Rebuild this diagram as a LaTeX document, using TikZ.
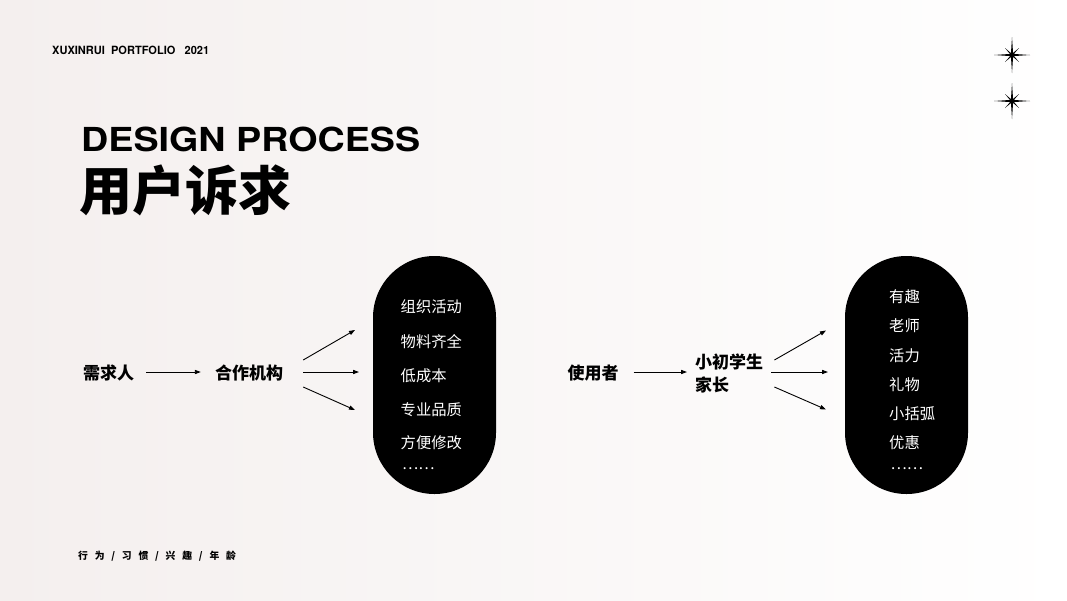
\documentclass[tikz,border=0pt]{standalone}
\usepackage{fontspec}
\setmainfont{TeX Gyre Heros}
\newfontfamily\cjk{Noto Sans CJK SC}
\newfontfamily\lat{TeX Gyre Heros}
\usetikzlibrary{arrows.meta,calc}
\definecolor{bgpink}{HTML}{F4EFEE}
\tikzset{
  lbl/.style={inner sep=0pt, font=\cjk\bfseries\fontsize{17}{20}\selectfont},
  pilltxt/.style={inner sep=0pt, anchor=west, text=white, font=\cjk\fontsize{15.3}{18}\selectfont},
  pill/.style={fill=black, minimum width=123pt, minimum height=238pt, rounded corners=61.5pt, inner sep=0pt},
  arr/.style={line width=0.9pt, -{Triangle[length=6pt,width=4.2pt]}},
}
\newcommand{\sparkle}[2]{%
  \fill[black] (#1,#2) +(0,-18) -- +(1.1,-1.1) -- +(18,0) -- +(1.1,1.1) -- +(0,18) -- +(-1.1,1.1) -- +(-18,0) -- +(-1.1,-1.1) -- cycle;
  \fill[black] (#1,#2) +(-7,-7) -- +(1.2,0) -- +(7,7) -- +(-1.2,0) -- cycle;
  \fill[black] (#1,#2) +(-7,7) -- +(0,-1.2) -- +(7,-7) -- +(0,1.2) -- cycle;
  \fill[black] (#1,#2) circle (2.6);
}
\newcommand{\gap}{\hspace{6.8pt}}
\begin{document}
\begin{tikzpicture}[x=1pt,y=-1pt]
\useasboundingbox (0,0) rectangle (1067,600);
% background
\shade[left color=bgpink, right color=white] (0,0) rectangle (1067,600);

% header
\node[anchor=west, inner sep=0pt] (brand) at (52,50) {\resizebox{157pt}{8.4pt}{\lat\bfseries XUXINRUI\ \ PORTFOLIO\ \ \ 2021}};
\node[anchor=west, inner sep=0pt] (title) at (81,139.5) {\resizebox{339pt}{24.5pt}{\lat\bfseries DESIGN PROCESS}};
\node[anchor=west, inner sep=0pt] (subtitle) at (79,190) {\resizebox{212pt}{!}{\cjk\bfseries 用户诉求}};

% stars
\sparkle{1012}{55}
\sparkle{1012}{101}

% left flow
\node[lbl] (req) at (108.5,373) {需求人};
\node[lbl] (org) at (249,373) {合作机构};
\node[pill] (pillA) at (434.5,375) {};
\coordinate (a1) at (355,330);
\coordinate (a2) at (359,372);
\coordinate (a3) at (355,410);
\draw[arr] ($(req.east)+(12,-1)$) -- ($(org.west)+(-14,-1)$);
\draw[arr] ($(org.east)+(20,-13)$) -- (a1);
\draw[arr] ($(org.east)+(20,-1)$) -- (a2);
\draw[arr] ($(org.east)+(20,14)$) -- (a3);
\node[pilltxt] (pa1) at (400.5,306.5) {组织活动};
\node[pilltxt] (pa2) at (400.5,341.5) {物料齐全};
\node[pilltxt] (pa3) at (400.5,376) {低成本};
\node[pilltxt] (pa4) at (400.5,409.5) {专业品质};
\node[pilltxt] (pa5) at (400.5,443) {方便修改};
\node[pilltxt] (pa6) at (402,468.5) {……};

% right flow
\node[lbl] (user) at (593,373) {使用者};
\node[lbl, anchor=west] (kid1) at (695,361.5) {小初学生};
\node[lbl, anchor=west] (kid2) at (695,385) {家长};
\node[pill] (pillB) at (906.5,375) {};
\coordinate (b1) at (826,330.5);
\coordinate (b2) at (828,372);
\coordinate (b3) at (826,409.5);
\draw[arr] ($(user.east)+(15,-1)$) -- ($(kid1.west)+(-8,10.5)$);
\draw[arr] ($(kid1.east)+(11,-1.5)$) -- (b1);
\draw[arr] ($(kid1.east)+(8,10.5)$) -- (b2);
\draw[arr] ($(kid1.east)+(11,25.5)$) -- (b3);
\node[pilltxt] (pb1) at (889,296.5) {有趣};
\node[pilltxt] (pb2) at (889,326) {老师};
\node[pilltxt] (pb3) at (889,355.5) {活力};
\node[pilltxt] (pb4) at (889,385) {礼物};
\node[pilltxt] (pb5) at (889,414) {小括弧};
\node[pilltxt] (pb6) at (889,443) {优惠};
\node[pilltxt] (pb7) at (890.5,468.5) {……};

% footer
\node[anchor=west, inner sep=0pt, font=\cjk\bfseries\fontsize{9.8}{11}\selectfont] (tags) at (78,556.5)
  {行\gap 为\gap /\gap 习\gap 惯\gap /\gap 兴\gap 趣\gap /\gap 年\gap 龄};
\end{tikzpicture}
\end{document}
